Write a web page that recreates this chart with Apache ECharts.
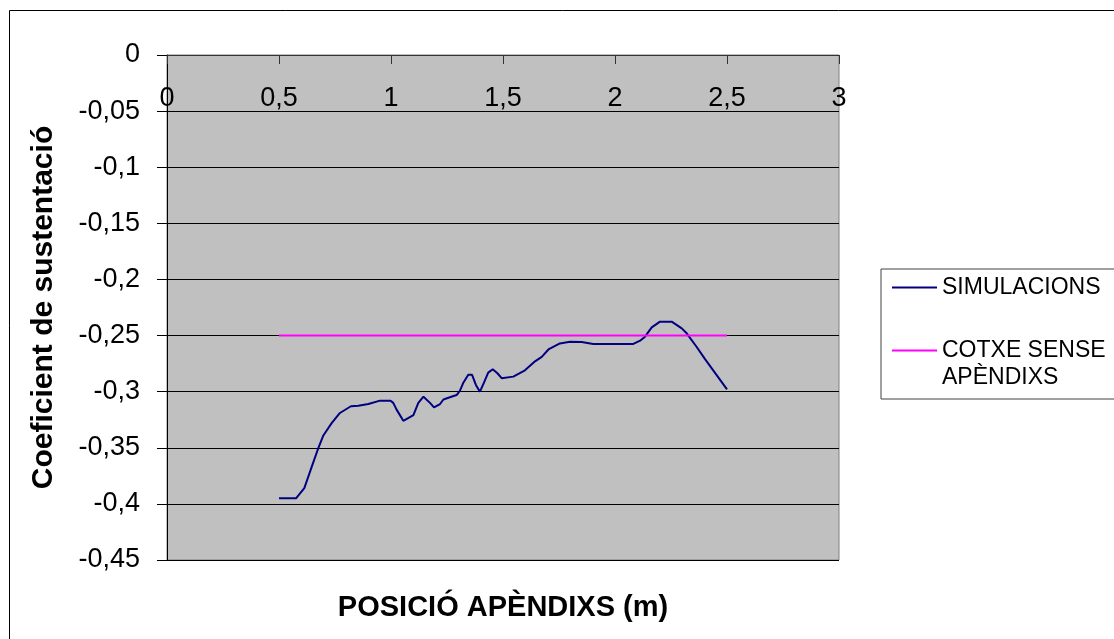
<!DOCTYPE html>
<html>
<head>
<meta charset="utf-8">
<script src="https://cdn.jsdelivr.net/npm/echarts@6/dist/echarts.min.js"></script>
<style>html,body{margin:0;padding:0;background:#fff;}#c{width:1114px;height:639px;}</style>
</head>
<body>
<div id="c"></div>
<script>
// Data
var simName = 'SIMULACIONS';
var refName = 'COTXE SENSE\nAPÈNDIXS';
var simX = [0.5, 0.576, 0.613, 0.646, 0.676, 0.698, 0.735, 0.772, 0.821, 0.854, 0.899, 0.951, 0.998, 1.010, 1.025, 1.055, 1.100, 1.122, 1.145, 1.174, 1.192, 1.219, 1.234, 1.263, 1.293, 1.308, 1.323, 1.345, 1.362, 1.379, 1.397, 1.415, 1.434, 1.454, 1.475, 1.494, 1.546, 1.598, 1.643, 1.673, 1.705, 1.754, 1.799, 1.851, 1.903, 2.082, 2.112, 2.134, 2.164, 2.201, 2.253, 2.298, 2.320, 2.364, 2.402, 2.5];
var simY = [-0.395, -0.395, -0.386, -0.367, -0.350, -0.339, -0.328, -0.319, -0.313, -0.3125, -0.311, -0.308, -0.308, -0.310, -0.316, -0.326, -0.321, -0.310, -0.3045, -0.310, -0.314, -0.311, -0.307, -0.305, -0.303, -0.299, -0.292, -0.285, -0.285, -0.294, -0.300, -0.292, -0.283, -0.280, -0.2836, -0.288, -0.2866, -0.281, -0.273, -0.269, -0.262, -0.257, -0.2555, -0.2557, -0.2575, -0.2575, -0.2546, -0.251, -0.2427, -0.2376, -0.2376, -0.2436, -0.248, -0.260, -0.271, -0.298];
var refX = [0.5, 2.5];
var refY = [-0.25, -0.25];
var xTicks = {min: 0, max: 3, interval: 0.5};
var yTicks = {min: -0.45, max: 0, interval: 0.05};

function pairs(xs, ys) { return xs.map(function (x, i) { return [x, ys[i]]; }); }
function fmt(v) { return String(Math.round(v * 100) / 100).replace('.', ','); }

var FONT = 'Liberation Sans';
var chart = echarts.init(document.getElementById('c'));
chart.setOption({
  backgroundColor: '#ffffff',
  animation: false,
  graphic: [{
    type: 'rect', silent: true, z: -10,
    shape: {x: 9.5, y: 10.5, width: 1120, height: 660},
    style: {fill: 'none', stroke: '#000', lineWidth: 1}
  }],
  grid: {
    left: 167, top: 55, right: 275, bottom: 79,
    show: true, backgroundColor: '#c0c0c0', borderColor: '#808080', borderWidth: 1,
    outerBoundsMode: 'none'
  },
  legend: {
    orient: 'vertical', left: 881, top: 269,
    borderColor: '#404040', borderWidth: 1,
    padding: [5, 25, 8, 10],
    itemWidth: 45, itemHeight: 14, itemGap: 9,
    itemStyle: {opacity: 0},
    textStyle: {fontFamily: FONT, fontSize: 23, color: '#000', lineHeight: 27},
    formatter: function (name) { return name === refName ? '\n' + name : name; },
    data: [simName, refName]
  },
  xAxis: [{
    type: 'value', position: 'top',
    min: xTicks.min, max: xTicks.max, interval: xTicks.interval,
    axisLine: {show: true, onZero: false, lineStyle: {color: '#333', width: 1}},
    axisTick: {show: true, inside: true, length: 9, lineStyle: {color: '#333'}},
    axisLabel: {inside: true, margin: 30, showMinLabel: true, showMaxLabel: true,
      fontFamily: FONT, fontSize: 27, color: '#000', formatter: fmt},
    splitLine: {show: false}
  }, {
    type: 'value', position: 'bottom',
    min: xTicks.min, max: xTicks.max, interval: xTicks.interval,
    axisLine: {show: false}, axisTick: {show: false}, axisLabel: {show: false}, splitLine: {show: false},
    name: 'POSICIÓ APÈNDIXS (m)', nameLocation: 'middle', nameGap: 33,
    nameTextStyle: {fontFamily: FONT, fontSize: 29, fontWeight: 'bold', color: '#000'}
  }],
  yAxis: {
    type: 'value',
    min: yTicks.min, max: yTicks.max, interval: yTicks.interval,
    axisLine: {show: true, onZero: false, lineStyle: {color: '#000', width: 1}},
    axisTick: {show: true, inside: false, length: 10, lineStyle: {color: '#000'}},
    axisLabel: {margin: 27, showMinLabel: true, showMaxLabel: true,
      fontFamily: FONT, fontSize: 27, color: '#000', formatter: fmt},
    splitLine: {show: true, lineStyle: {color: '#000', width: 1}},
    name: 'Coeficient de sustentació', nameLocation: 'middle', nameGap: 108, nameRotate: 90,
    nameTextStyle: {fontFamily: FONT, fontSize: 30, fontWeight: 'bold', color: '#000'}
  },
  series: [{
    name: simName, type: 'line', xAxisIndex: 0,
    data: pairs(simX, simY), symbol: 'none', showSymbol: false,
    lineStyle: {color: '#000080', width: 2}, itemStyle: {color: '#000080'}
  }, {
    name: refName, type: 'line', xAxisIndex: 0,
    data: pairs(refX, refY), symbol: 'none', showSymbol: false,
    lineStyle: {color: '#ff00ff', width: 2}, itemStyle: {color: '#ff00ff'}
  }]
});
</script>
</body>
</html>
